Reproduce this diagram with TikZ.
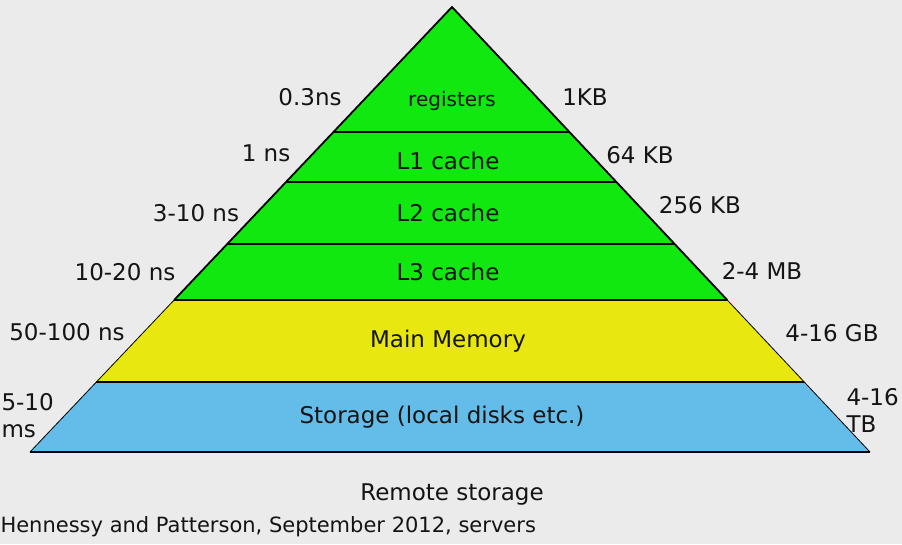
\documentclass[tikz,border=0pt]{standalone}
\usepackage{fontspec}
\setmainfont{DejaVu Sans}
\usetikzlibrary{calc}

\definecolor{bgcol}{RGB}{235,235,235}
\definecolor{cachecol}{RGB}{16,232,16}
\definecolor{memcol}{RGB}{232,232,16}
\definecolor{diskcol}{RGB}{100,188,232}
\definecolor{txtcol}{RGB}{20,20,20}

\begin{document}
\begin{tikzpicture}[x=1pt,y=-1pt,font=\fontsize{23}{27}\selectfont,text=txtcol]
% 背景
\fill[bgcol] (0,0) rectangle (902,544);
\useasboundingbox (0,0) rectangle (902,544);

% 頂点と底辺
\coordinate (apex) at (452,7);
\coordinate (baseL) at (30,452);
\coordinate (baseR) at (870,452);

% 各層の境界(左右の辺上)
\foreach \i/\t in {1/0.2809, 2/0.3933, 3/0.5326, 4/0.6584, 5/0.8427} {
  \coordinate (L\i) at ($(apex)!\t!(baseL)$);
  \coordinate (R\i) at ($(apex)!\t!(baseR)$);
}

% 層の塗り
\fill[cachecol] (apex) -- (L4) -- (R4) -- cycle;
\fill[memcol] (L4) -- (L5) -- (R5) -- (R4) -- cycle;
\fill[diskcol] (L5) -- (baseL) -- (baseR) -- (R5) -- cycle;

% 境界線
\foreach \i in {1,2,3,4,5} {
  \draw[line width=1.2pt] (L\i) -- (R\i);
}
\draw[line width=1.6pt] (baseL) -- (baseR);
\draw[line width=1.8pt, line join=round] (L4) -- (apex) -- (R4);
\draw[line width=0.8pt] (L4) -- (baseL);
\draw[line width=0.8pt] (R4) -- (baseR);

% 層の名前
\node[font=\fontsize{20}{24}\selectfont] (reg) at (452,101) {registers};
\node (lone)   at (448,161) {L1 cache};
\node (ltwo)   at (448,213) {L2 cache};
\node (lthree) at (448,272) {L3 cache};
\node (mem)    at (448,341) {Main Memory};
\node (disk)   at (442,417) {Storage (local disks etc.)};

% アクセス時間(左)
\node (treg)   at (310,97)  {0.3ns};
\node (tone)   at (266,153) {1 ns};
\node (ttwo)   at (196,213) {3-10 ns};
\node (tthree) at (125,272) {10-20 ns};
\node (tmem)   at (67,332)  {50-100 ns};
\node[align=left, anchor=west] (tdisk) at (-2,416) {5-10\\ms};

% 容量(右)
\node (sreg)   at (585,97)  {1KB};
\node (sone)   at (640,155) {64 KB};
\node (stwo)   at (700,205) {256 KB};
\node (sthree) at (762,271) {2-4 MB};
\node (smem)   at (832,333) {4-16 GB};
\node[align=left, anchor=west] (sdisk) at (843,410) {4-16\\TB};

% 下の注記
\node (remote) at (452,494) {Remote storage};
\node[anchor=west, font=\fontsize{21}{25}\selectfont] (cite) at (-3,527) {Hennessy and Patterson, September 2012, servers};
\end{tikzpicture}
\end{document}
